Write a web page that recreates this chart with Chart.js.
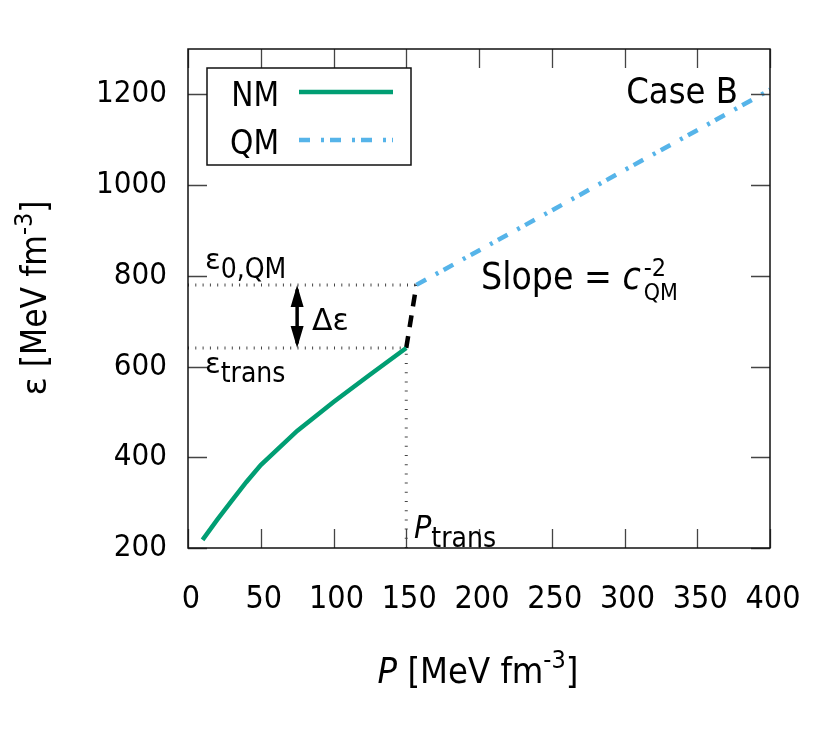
<!DOCTYPE html>
<html>
<head>
<meta charset="utf-8">
<script src="https://cdn.jsdelivr.net/npm/chart.js@4.4.1/dist/chart.umd.min.js"></script>
<style>
  html, body { margin: 0; padding: 0; background: #fff; }
</style>
</head>
<body>
<canvas id="myChart" width="825" height="750"></canvas>
<script>
  // tick labels
  var xTicks = [0, 50, 100, 150, 200, 250, 300, 350, 400];
  var yTicks = [200, 400, 600, 800, 1000, 1200];

  // nuclear matter branch (P, eps)
  var nmP = [10, 20, 30, 40, 50, 75, 100, 125, 150];
  var nmE = [218, 262, 304, 345, 383, 458, 522, 582, 641];

  // jump at the transition
  var jumpP = [150, 157];
  var jumpE = [641, 780];

  // quark matter branch
  var qmP = [157, 200, 250, 300, 350, 400];
  var qmE = [780, 856, 944, 1033, 1121, 1210];

  // transition markers
  var pTrans = 150;
  var eTrans = 641;
  var eQM0 = 780;
  var deltaAt = 75;

  function pts(xs, ys) {
    return xs.map(function (x, i) { return { x: x, y: ys[i] }; });
  }

  var FONT = "'DejaVu Sans Condensed', 'DejaVu Sans', sans-serif";
  var GREEK = "'DejaVu Sans', sans-serif";
  var GREEN = "#009e73", BLUE = "#56b4e9";
  var QM_DASH = [11, 11, 3, 6];

  //draw text made of several pieces (sub/superscripts)
  function rich(ctx, x, y, parts, align) {
    var w = 0;
    parts.forEach(function (p) { ctx.font = p[1]; p.w = ctx.measureText(p[0]).width; w += p.w; });
    var cx = align === "right" ? x - w : (align === "center" ? x - w / 2 : x);
    parts.forEach(function (p) {
      ctx.font = p[1];
      ctx.fillText(p[0], cx, y + (p[2] || 0));
      cx += p.w;
    });
  }

  var decor = {
    id: "decor",
    afterDraw: function (chart) {
      var ctx = chart.ctx, a = chart.chartArea;
      var xs = chart.scales.x, ys = chart.scales.y;
      ctx.save();

      // frame and inward ticks on all four sides
      ctx.strokeStyle = "#444";
      ctx.lineWidth = 1.3;
      ctx.setLineDash([]);
      ctx.beginPath();
      xTicks.forEach(function (v) {
        var px = Math.round(xs.getPixelForValue(v)) + 0.5;
        ctx.moveTo(px, a.bottom); ctx.lineTo(px, a.bottom - 19);
        ctx.moveTo(px, a.top); ctx.lineTo(px, a.top + 19);
      });
      yTicks.forEach(function (v) {
        var py = Math.round(ys.getPixelForValue(v)) + 0.5;
        ctx.moveTo(a.left, py); ctx.lineTo(a.left + 19, py);
        ctx.moveTo(a.right, py); ctx.lineTo(a.right - 19, py);
      });
      ctx.stroke();
      ctx.strokeStyle = "#111";
      ctx.lineWidth = 1.5;
      ctx.strokeRect(a.left, a.top, a.right - a.left, a.bottom - a.top);

      // double arrow for delta eps
      var ax = xs.getPixelForValue(deltaAt);
      var yTop = ys.getPixelForValue(eQM0), yBot = ys.getPixelForValue(eTrans);
      ctx.fillStyle = "#000";
      ctx.beginPath();
      ctx.moveTo(ax, yTop); ctx.lineTo(ax - 6.5, yTop + 22); ctx.lineTo(ax + 6.5, yTop + 22); ctx.closePath();
      ctx.moveTo(ax, yBot); ctx.lineTo(ax - 6.5, yBot - 22); ctx.lineTo(ax + 6.5, yBot - 22); ctx.closePath();
      ctx.fill();

      // legend box
      ctx.fillStyle = "#fff";
      ctx.fillRect(207, 68, 204, 97);
      ctx.strokeStyle = "#111";
      ctx.lineWidth = 1.5;
      ctx.strokeRect(207, 68, 204, 97);
      ctx.fillStyle = "#000";
      ctx.textBaseline = "alphabetic";
      ctx.textAlign = "left";
      rich(ctx, 279, 106, [["NM", "33px " + FONT]], "right");
      rich(ctx, 279, 154, [["QM", "33px " + FONT]], "right");
      ctx.lineWidth = 4.5;
      ctx.strokeStyle = GREEN;
      ctx.beginPath(); ctx.moveTo(299, 92); ctx.lineTo(393, 92); ctx.stroke();
      ctx.strokeStyle = BLUE;
      ctx.setLineDash(QM_DASH);
      ctx.beginPath(); ctx.moveTo(299, 140); ctx.lineTo(393, 140); ctx.stroke();
      ctx.setLineDash([]);

      // annotations
      var big = "36px " + FONT, sub = "28px " + FONT;
      rich(ctx, 738, 103, [["Case B", big]], "right");
      rich(ctx, 205, 269, [["\u03b5", "29px " + GREEK], ["0,QM", sub, 9]], "left");
      rich(ctx, 205, 373, [["\u03b5", "29px " + GREEK], ["trans", sub, 9]], "left");
      rich(ctx, 312, 330, [["\u0394\u03b5", "30px " + GREEK]], "left");
      rich(ctx, 414, 538, [["P", "italic 32px " + FONT], ["trans", sub, 9]], "left");
      ctx.font = "37px " + FONT;
      ctx.fillText("Slope = ", 481, 289);
      var sx = 481 + ctx.measureText("Slope = ").width;
      ctx.font = "italic 37px " + FONT;
      ctx.fillText("c", sx, 289);
      sx += ctx.measureText("c").width + 3;
      ctx.font = "25px " + FONT;
      ctx.fillText("-2", sx, 276);
      ctx.font = "23px " + FONT;
      ctx.fillText("QM", sx, 300);

      // axis titles
      rich(ctx, 478, 683, [["P", "italic 36px " + FONT], [" [MeV fm", "36px " + FONT],
        ["-3", "25px " + FONT, -15], ["]", "36px " + FONT]], "center");
      ctx.translate(46, 298);
      ctx.rotate(-Math.PI / 2);
      rich(ctx, 0, 0, [["\u03b5", "34px " + GREEK], [" [MeV fm", "35px " + FONT], ["-3", "25px " + FONT, -14],
        ["]", "35px " + FONT]], "center");
      ctx.restore();
    }
  };

  var ctx = document.getElementById("myChart");

  var data = {
    datasets: [
      { label: "NM", data: pts(nmP, nmE), borderColor: GREEN, borderWidth: 4.5 },
      { label: "QM", data: pts(qmP, qmE), borderColor: BLUE, borderWidth: 4.5, borderDash: QM_DASH },
      { label: "jump", data: pts(jumpP, jumpE), borderColor: "#000", borderWidth: 4.5, borderDash: [12, 9] },
      { label: "dEps", data: pts([deltaAt, deltaAt], [eTrans + 10, eQM0 - 10]), borderColor: "#000", borderWidth: 3.5 },
      { label: "eQM0", data: pts([0, jumpP[1]], [eQM0, eQM0]), borderColor: "#444", borderWidth: 3, borderDash: [1, 6.3] },
      { label: "eTrans", data: pts([0, pTrans], [eTrans, eTrans]), borderColor: "#444", borderWidth: 3, borderDash: [1, 6.3] },
      { label: "pTrans", data: pts([pTrans, pTrans], [200, eTrans]), borderColor: "#444", borderWidth: 3, borderDash: [1, 8.2] }
    ]
  };

  var options = {
    responsive: false,
    animation: false,
    showLine: true,
    layout: { padding: { top: 49, right: 55, left: 0, bottom: 0 } },
    elements: { point: { radius: 0 }, line: { tension: 0, fill: false } },
    plugins: { legend: { display: false }, tooltip: { enabled: false } },
    scales: {
      x: {
        type: "linear", min: 0, max: 400,
        afterBuildTicks: function (s) { s.ticks = xTicks.map(function (v) { return { value: v }; }); },
        afterFit: function (s) { s.height = 202; },
        grid: { display: false },
        border: { display: false },
        ticks: {
          padding: 24, labelOffset: 3, color: "#000", maxRotation: 0, autoSkip: false,
          callback: function (v) { return String(v); },
          font: { family: FONT, size: 32 }
        }
      },
      y: {
        type: "linear", min: 200, max: 1300,
        afterBuildTicks: function (s) { s.ticks = yTicks.map(function (v) { return { value: v }; }); },
        afterFit: function (s) { s.width = 188; },
        grid: { display: false },
        border: { display: false },
        ticks: {
          padding: 13, color: "#000", autoSkip: false,
          callback: function (v) { return String(v); },
          font: { family: FONT, size: 31 }
        }
      }
    }
  };

  var chart = new Chart(ctx, {
    type: "scatter",
    data: data,
    options: options,
    plugins: [decor]
  });
</script>
</body>
</html>
